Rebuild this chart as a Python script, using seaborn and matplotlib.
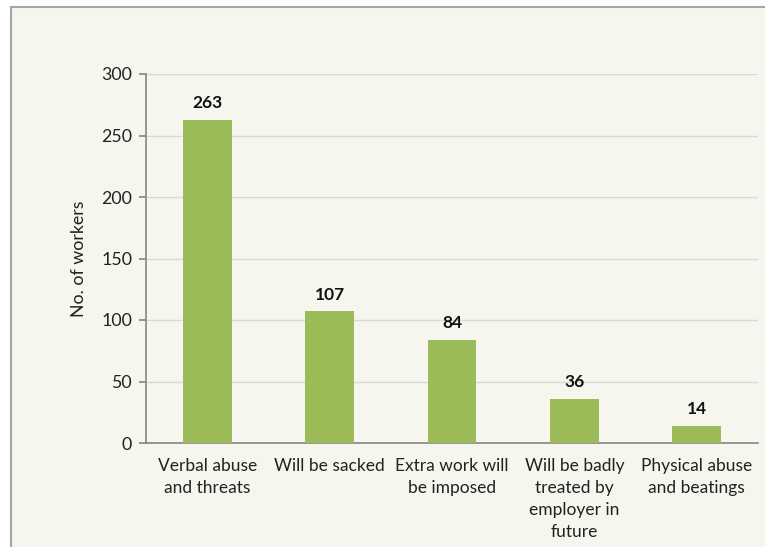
import matplotlib
matplotlib.use("Agg")
import matplotlib.pyplot as plt
from matplotlib.patches import Rectangle
import seaborn as sns
import pandas as pd

categories = [
    "Verbal abuse\nand threats",
    "Will be sacked",
    "Extra work will\nbe imposed",
    "Will be badly\ntreated by\nemployer in\nfuture",
    "Physical abuse\nand beatings",
]
workers = [263, 107, 84, 36, 14]
y_ticks = [0, 50, 100, 150, 200, 250, 300]

df = pd.DataFrame({"category": categories, "workers": workers})

sns.set_theme(style="white")
plt.rcParams["font.family"] = ["Lato", "DejaVu Sans"]

W, H = 765, 547
fig = plt.figure(figsize=(W / 100, H / 100), dpi=100, facecolor="white")

# chart area panel with grey border
panel = Rectangle((11 / W, -0.05), 1.1, 1 - 7 / H + 0.05, transform=fig.transFigure,
                  facecolor="#F6F6EF", edgecolor="#A6A6A6", linewidth=1.5, zorder=-10)
fig.patches.append(panel)

ax = fig.add_axes([146 / W, 1 - 443 / H, (758 - 146) / W, (443 - 74) / H])
ax.set_facecolor("none")
ax.set_zorder(1)

sns.barplot(data=df, x="category", y="workers", color="#9BBB59", width=0.4,
            saturation=1, linewidth=0, ax=ax, zorder=3)

ax.set_ylim(0, 300)
ax.set_xlim(-0.5, len(categories) - 0.5)
ax.set_yticks(y_ticks)
ax.yaxis.grid(True, color="#D9D9D9", linewidth=1, zorder=0)
ax.set_axisbelow(True)

for s in ["top", "right"]:
    ax.spines[s].set_visible(False)
for s in ["left", "bottom"]:
    ax.spines[s].set_color("#868686")
    ax.spines[s].set_linewidth(1.2)

# category boundary ticks on x axis
ax.set_xticks([i for i in range(len(categories))])
ax.set_xticklabels(categories, fontsize=12.5, color="#222222", linespacing=1.45)
ax.tick_params(axis="x", length=0, pad=11)
ax.set_xticks([i - 0.5 for i in range(len(categories) + 1)], minor=True)
ax.tick_params(axis="x", which="minor", length=5, color="#868686", width=1.2, direction="out")
ax.tick_params(axis="y", length=5, color="#868686", width=1.2, direction="out",
               labelsize=12.8, labelcolor="#222222", pad=5, left=True)

ax.set_xlabel("")
ax.set_ylabel("No. of workers", fontsize=12.8, color="#222222", labelpad=10)

for i, v in enumerate(workers):
    ax.annotate(str(v), (i, v), xytext=(0, 6), textcoords="offset points",
                ha="center", va="bottom", fontsize=12.5, fontweight="bold", color="#111111")

fig.savefig("out.png", dpi=100, facecolor="white")
